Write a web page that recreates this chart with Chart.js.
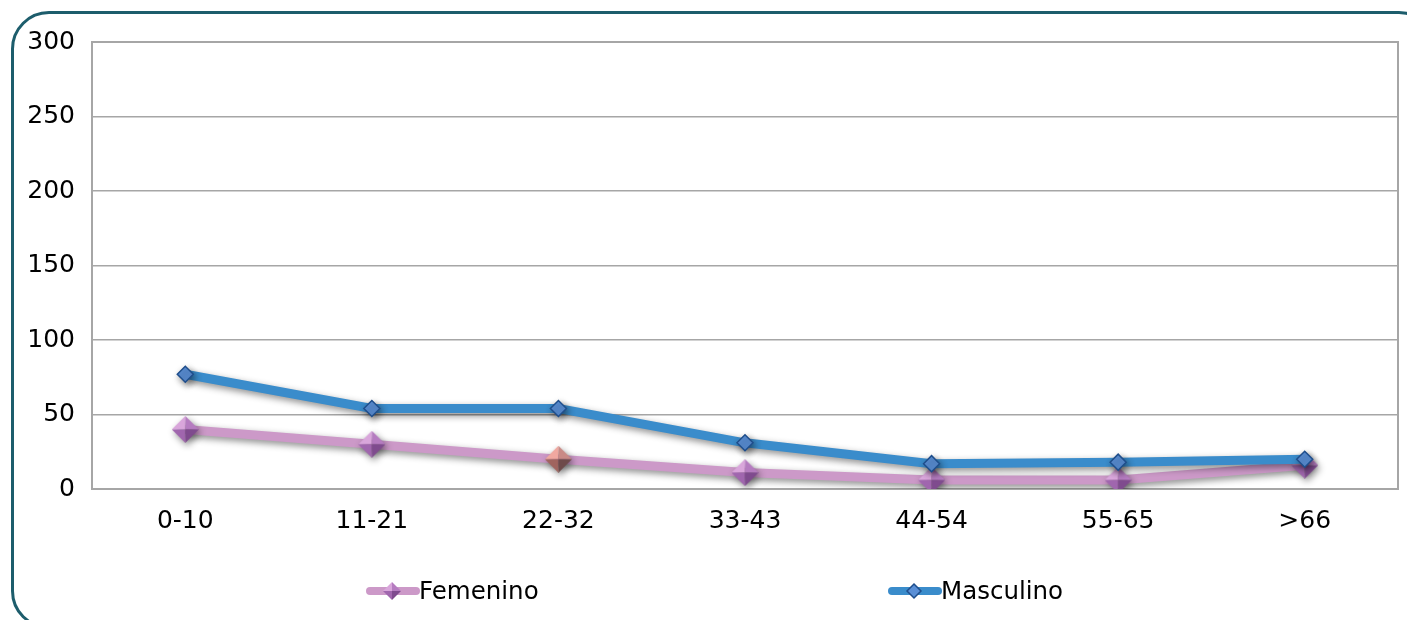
<!DOCTYPE html>
<html>
<head>
<meta charset="utf-8">
<script src="https://cdn.jsdelivr.net/npm/chart.js@4"></script>
<style>
    body { margin: 0; background: #fff; overflow: hidden; }
    #frame {
        position: absolute; left: 11px; top: 11px;
        width: 1420px; height: 612px;
        border: 3px solid #1d5d6c; border-radius: 38px;
    }
    #wrap { position: absolute; left: 0; top: 0; width: 1407px; height: 620px; }
</style>
</head>
<body>
<div id="frame"></div>
<div id="wrap"><canvas id="chart"></canvas></div>
<script>
const categories = ['0-10', '11-21', '22-32', '33-43', '44-54', '55-65', '>66'];
const femenino = [40, 30, 20, 11, 6, 6, 16];
const masculino = [77, 54, 54, 31, 17, 18, 20];
const yTicks = [0, 50, 100, 150, 200, 250, 300];

const FONT = '"DejaVu Sans", sans-serif';

// pyramid-looking diamond used for the Femenino markers
function makePyramid(size, colors) {
    const c = document.createElement('canvas');
    c.width = size; c.height = size;
    const g = c.getContext('2d');
    const h = size / 2;
    const facets = [
        [[h, 0], [0, h], [h, h]],
        [[h, 0], [size, h], [h, h]],
        [[0, h], [h, size], [h, h]],
        [[size, h], [h, size], [h, h]]
    ];
    facets.forEach((f, i) => {
        g.beginPath();
        g.moveTo(f[0][0], f[0][1]);
        g.lineTo(f[1][0], f[1][1]);
        g.lineTo(f[2][0], f[2][1]);
        g.closePath();
        g.fillStyle = colors[i];
        g.fill();
    });
    return c;
}

const pinkColors = ['#d9a6db', '#b57cc0', '#a066ae', '#7f4b8e'];
const salmonColors = ['#f0a8a0', '#c98a86', '#a0645e', '#6e4a4a'];
const pyramid = makePyramid(27, pinkColors);
const pyramidOdd = makePyramid(27, salmonColors);
const pyramidSmall = makePyramid(18, pinkColors);
const femStyles = femenino.map((v, i) => i === 2 ? pyramidOdd : pyramid);

const shadowPlugin = {
    id: 'shadow',
    beforeDatasetDraw(chart) {
        const ctx = chart.ctx;
        ctx.save();
        ctx.shadowColor = 'rgba(0,0,0,0.45)';
        ctx.shadowBlur = 7;
        ctx.shadowOffsetX = 2;
        ctx.shadowOffsetY = 3;
    },
    afterDatasetDraw(chart) {
        chart.ctx.restore();
    }
};

const legendPlugin = {
    id: 'customLegend',
    afterDraw(chart) {
        const ctx = chart.ctx;
        const y = 591;
        const items = [
            { x: 366, text: 'Femenino', color: '#cc99c8' },
            { x: 888, text: 'Masculino', color: '#3a8ccb' }
        ];
        items.forEach((it, i) => {
            ctx.save();
            ctx.lineCap = 'round';
            ctx.lineWidth = 8;
            ctx.strokeStyle = it.color;
            ctx.beginPath();
            ctx.moveTo(it.x + 4, y);
            ctx.lineTo(it.x + 50, y);
            ctx.stroke();
            const cx = it.x + 26;
            if (i === 0) {
                ctx.drawImage(pyramidSmall, cx - 9, y - 9);
            } else {
                ctx.beginPath();
                ctx.moveTo(cx, y - 7);
                ctx.lineTo(cx + 7, y);
                ctx.lineTo(cx, y + 7);
                ctx.lineTo(cx - 7, y);
                ctx.closePath();
                ctx.fillStyle = '#5a8fd6';
                ctx.fill();
                ctx.lineWidth = 1.5;
                ctx.strokeStyle = '#1f4e8c';
                ctx.stroke();
            }
            ctx.fillStyle = '#000';
            ctx.font = '24.5px ' + FONT;
            ctx.textBaseline = 'middle';
            ctx.textAlign = 'left';
            ctx.fillText(it.text, it.x + 53, y + 2);
            ctx.restore();
        });
    }
};

new Chart(document.getElementById('chart'), {
    type: 'line',
    data: {
        labels: categories,
        datasets: [
            {
                label: 'Femenino',
                data: femenino,
                borderColor: '#cc99c8',
                backgroundColor: '#cc99c8',
                borderWidth: 9,
                pointStyle: femStyles,
                pointRadius: 13,
                tension: 0,
                order: 1
            },
            {
                label: 'Masculino',
                data: masculino,
                borderColor: '#3a8ccb',
                backgroundColor: '#5a8fd6',
                pointBorderColor: '#1f4e8c',
                pointBackgroundColor: '#5a8fd6',
                pointBorderWidth: 1.5,
                borderWidth: 9,
                pointStyle: 'rectRot',
                pointRadius: 8,
                tension: 0,
                order: 0
            }
        ]
    },
    options: {
        responsive: true,
        maintainAspectRatio: false,
        animation: false,
        layout: { autoPadding: false, padding: { left: 0, right: 9, top: 42, bottom: 0 } },
        plugins: {
            legend: { display: false },
            tooltip: { enabled: false }
        },
        scales: {
            x: {
                offset: true,
                grid: { display: false, drawTicks: false },
                border: { color: '#a6a6a6', width: 2 },
                ticks: {
                    color: '#000', padding: 17, maxRotation: 0,
                    font: { family: FONT, size: 25 }
                },
                afterFit(scale) { scale.height = 131; }
            },
            y: {
                min: 0, max: 300,
                afterBuildTicks(scale) { scale.ticks = yTicks.map(v => ({ value: v })); },
                grid: { color: '#a6a6a6', lineWidth: 1.5, drawTicks: false },
                border: { color: '#a6a6a6', width: 2 },
                ticks: {
                    color: '#000', padding: 17,
                    font: { family: FONT, size: 25 }
                },
                afterFit(scale) { scale.width = 92; }
            },
            yRight: {
                position: 'right',
                min: 0, max: 300,
                grid: { display: false, drawTicks: false },
                border: { color: '#a6a6a6', width: 2 },
                ticks: { display: false },
                afterFit(scale) { scale.width = 0; }
            },
            xTop: {
                position: 'top',
                type: 'category',
                labels: categories,
                grid: { display: false, drawTicks: false },
                border: { color: '#a6a6a6', width: 2 },
                ticks: { display: false },
                afterFit(scale) { scale.height = 0; }
            }
        }
    },
    plugins: [shadowPlugin, legendPlugin]
});
</script>
</body>
</html>
